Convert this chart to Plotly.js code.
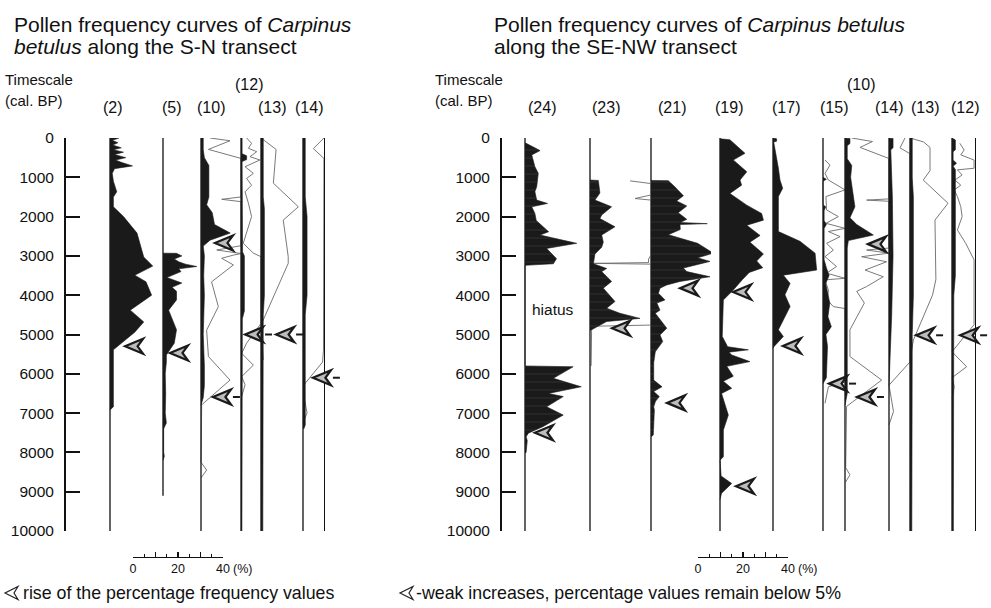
<!DOCTYPE html>
<html><head><meta charset="utf-8">
<script src="https://cdn.plot.ly/plotly-3.0.1.min.js"></script>
<style>html,body{margin:0;padding:0;background:#fff;}#chart{width:991px;height:608px;}</style>
</head><body><div id="chart"></div>
<script>
// ================= DATA (ages cal. BP, pollen %) =================
const ageTicks = [0,1000,2000,3000,4000,5000,6000,7000,8000,9000,10000];
const ageTickText = ['0','1000','2000','3000','4000','5000','6000','7000','8000','9000','10000'];

// ---- S-N transect ----
const snSites = ['(2)','(5)','(10)','(12)','(13)','(14)'];
const snCoreEnd = [10000, 9100, 10000, 10000, 10000, 10000];

const sn2Age = [0,60,120,180,250,300,360,420,500,560,620,710,780,900,1100,1370,1500,1750,2000,2420,3030,3260,3490,3660,4000,4380,4680,4940,5390,6840,6920];
const sn2Pct = [4,1,3.5,1.2,5,1.5,6,2,7,2.5,5,10,2,1,1.5,3,1.5,1.5,6,12,15,19,11,16,18.5,9,15,11,1.5,1.5,0];

const sn5Age = [2930,2935,3000,3080,3150,3210,3270,3330,3400,3480,3550,3690,3800,3900,4120,4380,4600,4880,5220,5520,5700,6000,6500,7000,7250,7400,8000,8100,8200];
const sn5Pct = [0,6,8.4,5,7,10,15,7,8,5,1.7,8.4,4,6,6,2.5,4,6,5,1.5,1.5,1,1.2,1,1.5,0.3,0.3,0.6,0];

const sn10Age = [0,300,500,700,1000,1500,1700,1900,2200,2420,2600,2750,3000,3500,4000,5000,5800,6300,6600,6800];
const sn10Pct = [1,1,1.5,3.5,3.5,3.5,2.5,5,6,13,4,1,1.5,1.2,1.5,1,1.5,1.5,1,0];
const sn10ExAge = [0,70,290,520,1500,1560,1620,2740,2850,2940,2980,3060,3230,3660,4290,4890,5560,6160,6790,8250,8450,8650];
const sn10ExPct = [4,12.9,3.3,17.8,17.8,9.2,17.8,17.8,7,17.8,14.4,9.2,14.4,4.7,7.7,2.5,3.3,12.9,0.3,0,2.5,0];

const sn12Age = [0,400,450,550,600,1000,2900,3000,4400,4600,10000];
const sn12Pct = [0.5,0.5,2.5,2.5,0.5,0.5,0.7,1.5,1.5,0.6,0.4];
const sn12ExAge = [0,135,262,348,475,560,730,900,1030,1200,1370,1660,2000,2380,2680,2930,3020,4720,5220,5480,5780,6070,6280,6580];
const sn12ExPct = [2.5,4.7,3.3,7,4,8.4,1.8,5.5,2.5,4.7,1.8,3.3,4.7,2.5,1,5.5,8.9,8.9,2.5,0.3,5.5,0.3,1.8,0.3];

const sn13Age = [0,1500,1800,4000,4500,10000];
const sn13Pct = [1,1,1.5,1.5,1,0.8];
const sn13ExAge = [0,290,1150,1750,2090,3020,3190,4760,5650];
const sn13ExPct = [0,6.7,5.5,16.6,9.9,12.1,12.1,0,1];

const sn14Age = [0,1500,2000,4000,4500,7300,7400];
const sn14Pct = [1,1,1.8,1.8,1,1,0.4];
const sn14ExAge = [0,270,520,5400,5700,6290,6500,7000,7250];
const sn14ExPct = [9.3,4.6,9.3,9.1,8.7,0.3,0.2,1.8,0];

const snArrowSite = ['(2)','(5)','(10)','(10)','(12)','(13)','(14)'];
const snArrowAge  = [5300,5470,2670,6590,5000,5000,6100];
const snArrowPct  = [6.7,3.1,6.2,5.3,1.8,6.7,4.4];
const snArrowWeak = [0,0,0,1,1,1,1];

// ---- SE-NW transect ----
const seSites = ['(24)','(23)','(21)','(19)','(17)','(15)','(10)','(14)','(13)','(12)'];
const seCoreEnd = [10000,10000,10000,10000,10000,10000,10000,10000,10000,10000];

const se24Age = [130,135,320,430,730,900,1240,1365,1580,1665,1750,1920,2100,2260,2385,2470,2680,2810,3070,3200,3240,5800,5820,6115,6330,6500,6580,6840,7050,7340,7510,7600,7700,8000,8020];
const se24Pct = [0,0.5,6.7,3,4.4,5.9,5.2,4.4,5.2,10,3,4.4,5,8,10.5,6.7,23,9.6,14,12.6,0,0,21.4,12.6,25,10.4,17,9.6,17,8.1,1.5,0.5,1,0.5,0];

const se23Age = [1070,1080,1400,1580,1750,1960,2050,2260,2470,2650,2780,2950,3200,3320,3400,3650,3820,4160,4330,4460,4590,4670,4880,4900];
const se23Pct = [0,3.7,4.4,2.2,9.6,5.2,4.4,11.1,5.2,5.9,5.2,2.2,1.5,7.4,5.2,9.6,5.9,11.1,7.4,13.3,22.2,7.4,0.7,0];
const se23ExAge = [1090,1160,1450,1540,1580,2980,3080,3170,3190,3210,4760,4790,4900,5800];
const se23ExPct = [17.8,27.1,27.1,20,27.1,27.1,26,26,1.5,27.1,27.1,0.7,0.7,0.5];

const se21Age = [1080,1085,1250,1470,1600,1730,1900,2070,2150,2180,2200,2330,2460,2590,2680,2930,3050,3140,3310,3400,3530,3650,3740,3820,3950,4120,4200,4380,4460,4840,5010,5180,5440,5720,6160,6330,6450,6580,6700,6840,6920,7560,7600];
const se21Pct = [0,7.7,10.7,14.4,11.4,15.9,12.1,15.9,13,25,12.9,13,7.7,15.9,20.7,27.7,20.7,26.2,14.4,15.9,26.2,12.9,7,4,3.3,6.2,2.6,4,1.9,7,4,5.2,1.9,1.2,1.2,4.9,1.2,3.7,2,1.2,1.5,1,0];

const se19Age = [20,45,390,560,860,1070,1200,1410,1710,1920,2090,2220,2480,2650,2950,3130,3300,3420,3600,3870,4120,5050,5310,5390,5450,5520,5690,5810,6060,6190,6370,6500,7050,7430,8110,8200,8600,8790,9040,9200];
const se19Pct = [0,4.4,11.1,5.9,11.9,8.9,9.6,4.4,11.9,18.5,19.3,11.9,17.8,13.3,19.3,16.3,19,13,10,5.9,1.5,1,3.4,12.6,4,5.2,13.3,3,5.9,1.5,5.2,0.7,3.7,1.5,1.5,0,0.5,5.2,0.7,0];

const se17Age = [0,20,80,100,770,1070,1280,1490,2380,2630,2930,3270,3360,3490,3700,3990,4290,4880,5050,5310,5350];
const se17Pct = [0,1.6,1.6,0.3,2.4,3.1,4.3,2.4,2.4,12,18.7,19.4,19.4,4.6,7.6,5.3,7.6,2.4,4.6,0.4,0];

const se15Age = [1000,1050,1100,1700,1750,1850,2100,2200,2300,3100,3300,3500,3700,3900,4200,4550,4800,5000,5300,6100,6250];
const se15Pct = [0,1.5,0,0,1.2,0.5,0.5,1.5,0.5,0.5,1.5,2.7,1.2,2,3,2.2,3.7,1.3,2,1.5,0];
const se15ExAge = [560,690,900,1070,1320,1490,1830,2000,2170,2300,2380,2510,2680,2850,3020,3270,3440,3570,3610,3870,4120,4290,4340,6200,6330,6750];
const se15ExPct = [0.9,3.1,0.9,2.4,9.8,1.3,1.6,6.8,1.3,9.8,2.4,7.6,1.6,4.6,0.9,6,1.6,9.8,0.9,2.4,1.9,4.6,9.8,9.8,2.4,0.9];

const se10Age = [0,10,140,200,530,700,1000,1340,1750,2030,2200,2470,2610,2800,6500,6800];
const se10Pct = [0,2.2,2.2,1,1,3,2.5,3.5,4.4,2.2,5.2,12.6,1.5,1,1,0];
const se10ExAge = [0,90,240,520,1550,1580,1610,2800,2850,2930,3020,3150,3360,3530,3780,3900,4200,4880,5560,6160,6830,8390,8570,8750];
const se10ExPct = [3,12.2,6.7,19.5,19.5,9.6,19.5,19.5,9.6,19.5,7.4,18.5,8.9,17,9.6,5.2,8.6,2.2,2.2,16.3,0.7,0.3,2.2,0.3];

const se14Age = [0,10,250,300,1500,3000,4500,6300];
const se14Pct = [0,1.8,1.8,0.8,1.5,1.8,1.2,0];
const se14ExAge = [0,250,400,5700,6290,6960,7300];
const se14ExPct = [7.1,4.9,9.3,9.3,0,2,0];

const se13Age = [0,1000,1500,4000,5000,10000];
const se13Pct = [1,1,1.5,1.5,1,0.8];
const se13ExAge = [0,100,240,830,1070,1660,2090,3600,4000,5140,5650];
const se13ExPct = [0,6,8.9,8.9,5.9,16.9,11.1,11.5,10,1.5,0];

const se12Age = [0,50,300,350,560,640,720,800,3500,4000,10000];
const se12Pct = [0,1.5,1.5,0.5,0.5,2,0.5,1.5,1.5,0.8,0.6];
const se12ExAge = [135,305,430,560,770,810,940,1070,1200,1320,1490,1750,2000,2340,2680,3100,4750,5440,5820,6100,6330,6630];
const se12ExPct = [3.5,5.4,3.9,9.8,9.8,2.4,4.5,1.3,3.9,1,2.4,3.9,4.5,2.4,6.1,9.8,9.8,0,6.5,0,1,0];

const seArrowSite = ['(24)','(23)','(21)','(21)','(19)','(19)','(17)','(15)','(10)','(10)','(13)','(12)'];
const seArrowAge  = [7500,4840,3820,6740,3920,8860,5290,6250,2700,6590,5020,5020];
const seArrowPct  = [4.4,9.8,12.9,7.1,5.8,7.1,4.4,2.7,10.2,5.3,2.7,3.6];
const seArrowWeak = [0,0,0,0,0,0,0,1,0,1,1,1];

const scaleTicks = [0,10,20,30,40];
const scaleText = ['0','','20','','40'];

// ================= LAYOUT / DRAWING =================
const W = 991, H = 608, PXPCT = 2.25, YT = 138, YB = 531, PAD = 3;
const fx = x => x / W, fy = y => 1 - y / H;
const FONT = 'Liberation Sans, Arial, Helvetica, sans-serif';

const snData = [
  [sn2Age, sn2Pct, null, null, 0],
  [sn5Age, sn5Pct, null, null, 0],
  [sn10Age, sn10Pct, sn10ExAge, sn10ExPct, 0],
  [sn12Age, sn12Pct, sn12ExAge, sn12ExPct, 0],
  [sn13Age, sn13Pct, sn13ExAge, sn13ExPct, 0],
  [sn14Age, sn14Pct, sn14ExAge, sn14ExPct, 0]
];
const seData = [
  [se24Age, se24Pct, null, null, 1],
  [se23Age, se23Pct, se23ExAge, se23ExPct, 1],
  [se21Age, se21Pct, null, null, 1],
  [se19Age, se19Pct, null, null, 0],
  [se17Age, se17Pct, null, null, 0],
  [se15Age, se15Pct, se15ExAge, se15ExPct, 0],
  [se10Age, se10Pct, se10ExAge, se10ExPct, 0],
  [se14Age, se14Pct, se14ExAge, se14ExPct, 0],
  [se13Age, se13Pct, se13ExAge, se13ExPct, 0],
  [se12Age, se12Pct, se12ExAge, se12ExPct, 0]
];
// column placement (pixels): baseline, label centre, raised label
const snPlace = [[110,113,0],[163,172,0],[201,211,0],[241,249,1],[261,272,0],[303,309,0]];
const sePlace = [[525,542,0],[590,606,0],[651,672,0],[720,729,0],[773,786,0],[823,834,0],[845,861,1],[889,889,0],[910,925,0],[952,965,0]];

const traces = [], shapes = [], annotations = [];
const layout = {
  width: W, height: H, margin: {l:0, r:0, t:0, b:0},
  paper_bgcolor: '#fff', plot_bgcolor: 'rgba(0,0,0,0)', showlegend: false,
  font: {family: FONT, color: '#111'}
};
const yDomain = [fy(YB), fy(YT)];
function yAxisDef(pos, labels) {
  return {
    domain: yDomain, range: [10000, 0], anchor: 'free', position: pos,
    showline: true, linecolor: '#111', linewidth: 2,
    ticks: labels ? 'inside' : '', ticklen: 14, tickwidth: 2, tickcolor: '#111',
    tickvals: ageTicks, ticktext: ageTickText, showticklabels: labels,
    tickfont: {size: 15.5, family: FONT, color: '#111'}, ticklabelstandoff: 7,
    showgrid: false, zeroline: false, fixedrange: true
  };
}
layout.yaxis = yAxisDef(fx(65), true);
layout.yaxis2 = yAxisDef(fx(501), true);
layout.yaxis3 = yAxisDef(fx(324), false);
layout.yaxis3.linewidth = 1.3;
layout.yaxis4 = yAxisDef(fx(975), false);
layout.yaxis4.linewidth = 1.3;

const DART = 'M0,0 L18,-7.5 L12.5,0 L18,7.5 Z';
let axN = 0;
const siteAxis = [{}, {}];

function addPanel(panel, sites, data, place, coreEnd) {
  const yid = panel === 0 ? 'y' : 'y2';
  sites.forEach((site, i) => {
    axN++;
    const xid = axN === 1 ? 'x' : 'x' + axN;
    const xkey = axN === 1 ? 'xaxis' : 'xaxis' + axN;
    const base = place[i][0];
    const wpx = Math.min(60, W - base);
    layout[xkey] = {domain: [fx(base - PAD), fx(base + wpx)], range: [-PAD / PXPCT, wpx / PXPCT],
      anchor: yid, visible: false, fixedrange: true};
    siteAxis[panel][site] = xid;
    const [a, p, ea, ep, hatched] = data[i];
    if (ea) traces.push({x: ep, y: ea, xaxis: xid, yaxis: yid, mode: 'lines',
      line: {color: '#6a6a6a', width: 0.9}, hoverinfo: 'skip'});
    traces.push({x: [0, 0], y: [0, coreEnd[i]], xaxis: xid, yaxis: yid, mode: 'lines',
      line: {color: '#222', width: 1.4}, hoverinfo: 'skip'});
    const fillTrace = {x: p, y: a, xaxis: xid, yaxis: yid, mode: 'lines', fill: 'tozerox',
      fillcolor: '#1a1a1a', line: {color: '#1a1a1a', width: 0.6}, hoverinfo: 'skip'};
    if (hatched) fillTrace.fillpattern = {shape: '-', bgcolor: '#1a1a1a', fgcolor: '#3c3c3c', size: 8, solidity: 0.08};
    traces.push(fillTrace);
    annotations.push({xref: 'paper', yref: 'paper', x: fx(place[i][1]), y: fy(place[i][2] ? 84 : 108),
      text: site, showarrow: false, xanchor: 'center', yanchor: 'middle',
      font: {size: 16, family: FONT, color: '#111'}});
  });
}
addPanel(0, snSites, snData, snPlace, snCoreEnd);
addPanel(1, seSites, seData, sePlace, seCoreEnd);

traces.push({x: [0], y: [0], xaxis: siteAxis[0]['(14)'], yaxis: 'y3', mode: 'markers', marker: {opacity: 0}, hoverinfo: 'skip'});
traces.push({x: [0], y: [0], xaxis: siteAxis[1]['(12)'], yaxis: 'y4', mode: 'markers', marker: {opacity: 0}, hoverinfo: 'skip'});

function addArrows(panel, siteArr, ageArr, pctArr, weakArr) {
  const yid = panel === 0 ? 'y' : 'y2';
  siteArr.forEach((s, i) => {
    const xid = siteAxis[panel][s];
    const common = {type: 'path', xref: xid, yref: yid, xsizemode: 'pixel', ysizemode: 'pixel',
      xanchor: pctArr[i], yanchor: ageArr[i], layer: 'above'};
    shapes.push(Object.assign({}, common, {path: DART, fillcolor: '#bdbdbd', opacity: 1, line: {color: '#1a1a1a', width: 2.2}}));
    if (weakArr[i]) shapes.push(Object.assign({}, common, {path: 'M20,0 L27,0', line: {color: '#1a1a1a', width: 2}}));
  });
}
addArrows(0, snArrowSite, snArrowAge, snArrowPct, snArrowWeak);
addArrows(1, seArrowSite, seArrowAge, seArrowPct, seArrowWeak);

function addScale(key, xid, yid, x0) {
  layout[key] = {domain: [fx(x0), fx(x0 + 40 * PXPCT)], range: [0, 40], anchor: 'free', position: fy(557),
    showline: true, linecolor: '#111', linewidth: 1.2, ticks: 'inside', ticklen: 5, tickwidth: 1.2, tickcolor: '#111',
    tickvals: scaleTicks, ticktext: scaleText, tickfont: {size: 12.5, family: FONT, color: '#111'},
    minor: {tickvals: [5, 15, 25, 35], ticks: 'inside', ticklen: 3, tickwidth: 1.2, tickcolor: '#111'},
    showgrid: false, zeroline: false, fixedrange: true, side: 'bottom'};
  traces.push({x: [0, 40], y: [10000, 10000], xaxis: xid, yaxis: yid, mode: 'markers', marker: {opacity: 0}, hoverinfo: 'skip'});
  annotations.push({xref: xid, yref: 'paper', x: 40, y: fy(569), text: '(%)', showarrow: false,
    xanchor: 'left', yanchor: 'middle', xshift: 8, font: {size: 12.5, family: FONT, color: '#111'}});
}
addScale('xaxis17', 'x17', 'y', 133);
addScale('xaxis18', 'x18', 'y2', 698);

function txt(x, y, text, size, anchor) {
  annotations.push({xref: 'paper', yref: 'paper', x: fx(x), y: fy(y), text: text, showarrow: false,
    xanchor: anchor || 'left', yanchor: 'middle', font: {size: size, family: FONT, color: '#111'}});
}
txt(12, 24, 'Pollen frequency curves of <i>Carpinus</i>', 21);
txt(12, 46, '<i>betulus</i> along the S-N transect', 21);
txt(492, 24, 'Pollen frequency curves of <i>Carpinus betulus</i>', 21);
txt(492, 46, 'along the SE-NW transect', 21);
txt(3, 80, 'Timescale', 15);
txt(3, 100, '(cal. BP)', 15);
txt(433, 80, 'Timescale', 15);
txt(433, 100, '(cal. BP)', 15);
txt(553, 309, 'hiatus', 15.5, 'center');
txt(21, 593, 'rise of the percentage frequency values', 17.8);
txt(414, 593, '-weak increases, percentage values remain below 5%', 17.8);

[5, 400].forEach(x => shapes.push({type: 'path', xref: 'paper', yref: 'paper', xsizemode: 'pixel', ysizemode: 'pixel',
  xanchor: fx(x), yanchor: fy(593), path: 'M0,0 L13,-6.5 L9,0 L13,6.5 Z', fillcolor: '#fff', line: {color: '#222', width: 1.2}}));

layout.shapes = shapes;
layout.annotations = annotations;
Plotly.newPlot('chart', traces, layout, {staticPlot: true, displayModeBar: false});
</script>
</body></html>
